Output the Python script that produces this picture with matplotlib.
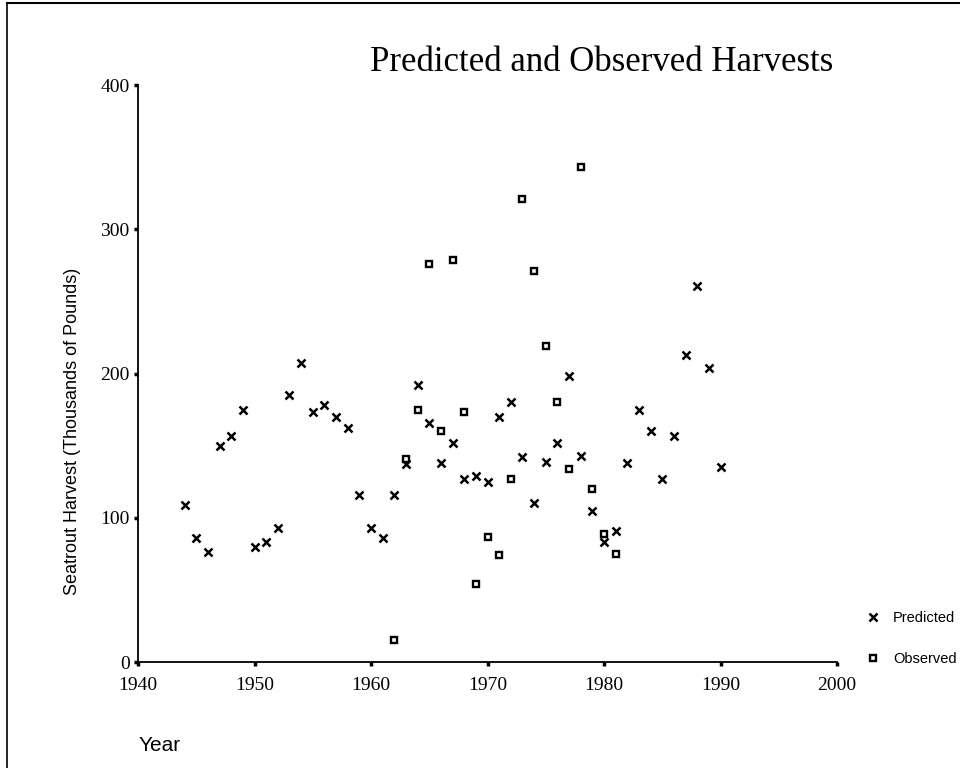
import matplotlib
matplotlib.use('Agg')
import matplotlib.pyplot as plt
from matplotlib.lines import Line2D

# Predicted harvest, one value per year 1944-1990
pred_years = list(range(1944, 1991))
pred_vals = [109, 86, 76, 150, 157, 175, 80, 83, 93, 185,
             207, 173, 178, 170, 162, 116, 93, 86, 116, 137,
             192, 166, 138, 152, 127, 129, 125, 170, 180, 142,
             110, 139, 152, 198, 143, 105, 83, 91, 138, 175,
             160, 127, 157, 213, 261, 204, 135]

# Observed harvest, 1962-1981
obs_years = list(range(1962, 1982))
obs_vals = [15, 141, 175, 276, 160, 279, 173, 54, 87, 74,
            127, 321, 271, 219, 180, 134, 343, 120, 89, 75]

x_ticks = [1940, 1950, 1960, 1970, 1980, 1990, 2000]
y_ticks = [0, 100, 200, 300, 400]


def main():
    fig = plt.figure(figsize=(9.6, 7.68), dpi=100)
    ax = fig.add_axes([0.1438, 0.138, 0.7281, 0.7513])

    ax.plot(pred_years, pred_vals, linestyle='none', marker='x', color='black',
            markersize=6, markeredgewidth=1.8, label='Predicted')
    ax.plot(obs_years, obs_vals, linestyle='none', marker='s', markerfacecolor='white',
            markeredgecolor='black', markersize=5, markeredgewidth=1.7, label='Observed')

    ax.set_xlim(1940, 2000)
    ax.set_ylim(0, 400)
    ax.set_xticks(x_ticks)
    ax.set_yticks(y_ticks)

    for side in ['top', 'right']:
        ax.spines[side].set_visible(False)
    for side in ['left', 'bottom']:
        ax.spines[side].set_linewidth(1.3)

    serif = ['Liberation Serif', 'DejaVu Serif']
    ax.tick_params(axis='both', direction='out', length=3, width=2.5)
    ax.tick_params(axis='x', pad=8)
    ax.tick_params(axis='y', pad=3)
    for lab in ax.get_xticklabels() + ax.get_yticklabels():
        lab.set_fontfamily(serif)
        lab.set_fontsize(14)

    ax.set_title('Predicted and Observed Harvests', fontfamily=serif, fontsize=25,
                 x=0.663, ha='center', pad=10)
    ax.set_ylabel('Seatrout Harvest (Thousands of Pounds)', fontfamily='Liberation Sans',
                  fontsize=13)
    ax.yaxis.set_label_coords(-0.082, 0.40)
    fig.text(0.1438, 0.022, 'Year', fontfamily='Liberation Sans', fontsize=15,
             ha='left', va='baseline')

    ax.legend(loc='lower left', bbox_to_anchor=(1.03, -0.02), frameon=False,
              prop={'family': 'Liberation Sans', 'size': 10.5},
              handlelength=1.0, handletextpad=0.9, labelspacing=1.85, borderpad=0)

    # page frame (left and top edges of the scan)
    fig.add_artist(Line2D([0.007, 0.007], [0.0, 0.996], transform=fig.transFigure,
                          color='black', linewidth=1.2))
    fig.add_artist(Line2D([0.007, 1.0], [0.996, 0.996], transform=fig.transFigure,
                          color='black', linewidth=1.5))

    fig.savefig('out.png', dpi=100)
    return 0


if __name__ == '__main__':
    exit(main())
